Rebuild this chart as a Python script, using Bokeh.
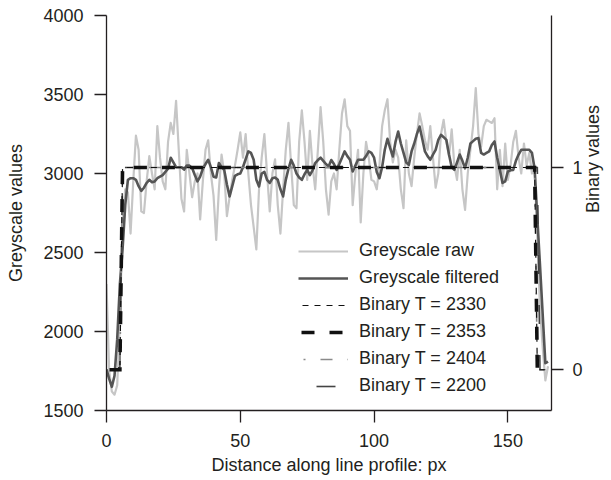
import math
from bokeh.plotting import figure
from bokeh.models import Range1d, LinearAxis, FixedTicker, Legend, LegendItem
from bokeh.embed import file_html
from bokeh.resources import INLINE

# ---------------- data ----------------
distance = list(range(166))

greyscale_raw = [
    2300, 1750, 1620, 1600, 1660, 2050, 2700, 2900, 2880, 2620,
    2950, 3240, 3150, 2760, 2750, 2950, 3110, 3000, 2900, 3300,
    3100, 2950, 2900, 3200, 3320, 3250, 3460, 3150, 2840, 2760,
    3150, 3000, 2850, 2950, 3000, 2710, 2950, 3150, 3210, 3000,
    2860, 2580, 2900, 3120, 3000, 2730, 2850, 2960, 3050, 3150,
    3260, 3100, 3250, 3000, 2800, 2660, 2520, 2900, 3100, 3250,
    3000, 2760, 3000, 3090, 2800, 2620, 2900, 3150, 3320, 3050,
    2800, 2780, 3200, 3400, 3200, 2960, 3270, 3050, 2900, 3150,
    3420, 3200, 2900, 2740, 2950, 3000, 2900, 3150, 3380, 3470,
    3300, 3270, 2800, 3000, 3150, 2690, 3000, 3200, 3100, 2960,
    2950, 2900, 3050, 3300, 3400, 3470, 3200, 3070, 3150, 3100,
    2900, 2780, 3210, 3000, 2920, 3100, 3250, 3380, 3300, 3210,
    3150, 3300, 3100, 2910, 3000, 3250, 3340, 3200, 3110, 3280,
    3050, 2960, 3150, 2900, 2770, 3000, 3150, 3300, 3540, 3250,
    3170, 3300, 3340, 3330, 3320, 3350, 2900, 3150, 2920, 3190,
    2960, 3050, 3200, 3270, 3100, 3000, 3190, 3050, 3130, 3000,
    3020, 2600, 2150, 1900, 1690, 1780,
]

greyscale_filtered = [
    1760, 1700, 1650, 1720, 1950, 2300, 2520, 2800, 2960, 2970,
    2970, 2960, 2920, 2890, 2910, 2940, 2960, 2945, 2950, 2970,
    2980, 2990, 3010, 3030, 3100, 3070, 3040, 3040, 3040, 3025,
    3050, 3050, 3035, 2990, 2950, 2980, 3030, 3060, 3087, 3040,
    2980, 2975, 3066, 3040, 3023, 2930, 2855, 2920, 2985, 2995,
    3000, 3040, 3090, 3140, 3130, 3087, 2960, 2918, 3000, 3010,
    2960, 2940, 2970, 2975, 2960, 2900, 2855, 2960, 3030, 3087,
    3050, 3000, 2975, 2960, 2995, 3023, 2990, 3020, 3066, 3085,
    3100, 3080, 3060, 3045, 3085, 3060, 3023, 3060, 3100, 3140,
    3110, 3087, 3013, 3050, 3087, 3087, 3087, 3110, 3140, 3130,
    3100, 3010, 2970, 3040, 3150, 3220, 3160, 3108, 3200, 3266,
    3190, 3130, 3070, 3055, 3140, 3190, 3250, 3297, 3220, 3140,
    3110, 3087, 3120, 3150, 3213, 3245, 3230, 3213, 3120, 3040,
    3023, 3070, 3120, 3080, 3033, 3100, 3190, 3205, 3220, 3224,
    3130, 3120, 3130, 3140, 3180, 3203, 3100, 3023, 2940, 2950,
    3013, 3020, 3023, 3080, 3120, 3150, 3150, 3150, 3150, 3130,
    3030, 2720, 2420, 2110, 1800, 1810,
]

thresholds = [2330, 2353, 2404, 2200]
binary_on_start = [6, 6, 6, 6]
binary_on_end = [160, 160, 160, 161]

x_ticks = [0, 50, 100, 150]
y_ticks = [1500, 2000, 2500, 3000, 3500, 4000]
binary_ticks = [0, 1]

binary_series = [
    [1 if s <= d <= e else 0 for d in distance]
    for s, e in zip(binary_on_start, binary_on_end)
]

# ---------------- figure ----------------
FONT = "Liberation Sans"
INK = "#231f20"

p = figure(
    frame_width=445, frame_height=395,
    x_range=Range1d(0, 166.3), y_range=Range1d(1500, 4000),
    output_backend="svg", toolbar_location=None,
    min_border_left=106, min_border_right=59, min_border_top=15, min_border_bottom=66,
)
p.extra_y_ranges = {"bin": Range1d(-0.2016, 1.7516)}
p.outline_line_color = None
p.grid.visible = False
p.background_fill_color = "white"
p.border_fill_color = "white"


def style_axis(ax):
    ax.axis_line_color = INK
    ax.axis_line_width = 1.3
    ax.major_tick_line_color = INK
    ax.major_tick_line_width = 1.3
    ax.major_tick_out = 12
    ax.major_tick_in = 0
    ax.minor_tick_line_color = None
    ax.major_label_text_font = FONT
    ax.major_label_text_font_size = "18px"
    ax.major_label_text_color = INK
    ax.axis_label_text_font = FONT
    ax.axis_label_text_font_size = "18px"
    ax.axis_label_text_font_style = "normal"
    ax.axis_label_text_color = INK


xa = p.xaxis[0]
xa.ticker = FixedTicker(ticks=x_ticks)
xa.axis_label = "Distance along line profile: px"
style_axis(xa)
xa.major_label_standoff = 11
xa.axis_label_standoff = 5

ya = p.yaxis[0]
ya.ticker = FixedTicker(ticks=y_ticks)
ya.axis_label = "Greyscale values"
style_axis(ya)
ya.major_label_standoff = 11
ya.axis_label_standoff = 14

ra = LinearAxis(y_range_name="bin", ticker=FixedTicker(ticks=binary_ticks),
                axis_label="Binary values")
style_axis(ra)
ra.major_label_standoff = 9
ra.axis_label_standoff = 7
ra.axis_label_orientation = math.pi / 2
p.add_layout(ra, "right")

# ---------------- glyphs ----------------
r_raw = p.line(distance, greyscale_raw, line_color="#c6c6c6", line_width=2.2,
               line_join="round")
r_filt = p.line(distance, greyscale_filtered, line_color="#555555", line_width=2.6,
                line_join="round")

styles = [
    dict(line_color="#111111", line_width=1.2, line_dash="6 6", line_dash_offset=8),
    dict(line_color="#111111", line_width=3.6, line_dash="13 15", line_dash_offset=25),
    dict(line_color="#8a8a8a", line_width=1.6, line_dash="2 15 12 15", line_dash_offset=39),
    dict(line_color="#444444", line_width=1.6, line_dash="19 31", line_dash_offset=32),
]
order = [3, 2, 0, 1]  # draw order so thick dashes end on top
bin_renderers = [None] * 4
for i in order:
    bin_renderers[i] = p.line(distance, binary_series[i], y_range_name="bin",
                              line_join="miter", **styles[i])

items = [
    LegendItem(label="Greyscale raw", renderers=[r_raw]),
    LegendItem(label="Greyscale filtered", renderers=[r_filt]),
]
for t, r in zip(thresholds, bin_renderers):
    items.append(LegendItem(label=f"Binary T = {t}", renderers=[r]))

legend = Legend(
    items=items, location=(192, 14),
    border_line_color=None, background_fill_alpha=0,
    glyph_width=50, glyph_height=20, label_height=20, label_standoff=11,
    spacing=6, padding=0, margin=0,
    label_text_font=FONT, label_text_font_size="18px", label_text_color=INK,
)
p.add_layout(legend)

open("out.html", "w").write(file_html(p, INLINE))
